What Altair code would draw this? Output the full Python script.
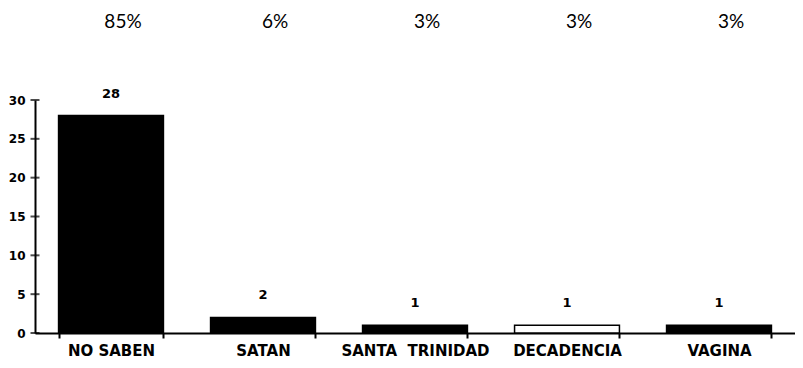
import altair as alt
import pandas as pd

categories = ["NO SABEN", "SATAN", "SANTA\u00a0\u00a0TRINIDAD", "DECADENCIA", "VAGINA"]
counts = [28, 2, 1, 1, 1]
percents = ["85%", "6%", "3%", "3%", "3%"]
fills = ["black", "black", "black", "white", "black"]
y_ticks = [0, 5, 10, 15, 20, 25, 30]

df = pd.DataFrame({"cat": categories, "n": counts, "pct": percents, "fill": fills})
ticks_df = pd.DataFrame({"n": y_ticks})

xscale = alt.Scale(domain=categories, paddingInner=0.31, paddingOuter=0.155)
yscale = alt.Scale(domain=[0, 30], nice=False)

base = alt.Chart(df)

yticks = alt.Chart(ticks_df).mark_tick(color="black", size=9, thickness=2).encode(
    y=alt.Y("n:Q", scale=yscale, title=None,
            axis=alt.Axis(values=y_ticks, tickCount=7)),
    x=alt.value(0)
)

bars = base.mark_bar(stroke="black", strokeWidth=1.5).encode(
    x=alt.X("cat:N", scale=xscale, sort=categories, title=None),
    y=alt.Y("n:Q", scale=yscale, title=None),
    fill=alt.Fill("fill:N", scale=None)
)

vals = base.mark_text(font="DejaVu Sans", fontWeight="bold", fontSize=13,
                      baseline="alphabetic", dy=-18, color="black").encode(
    x=alt.X("cat:N", scale=xscale, sort=categories, title=None),
    y=alt.Y("n:Q", scale=yscale, title=None),
    text="n:Q"
)

pcts = base.mark_text(font="Lato", fontSize=19, color="black", dx=12).encode(
    x=alt.X("cat:N", scale=xscale, sort=categories, title=None),
    y=alt.value(-78), text="pct:N"
)

chart = alt.layer(yticks, bars, vals, pcts).properties(
    width=760, height=233, autosize="none", background="white",
    padding={"left": 27, "top": 92, "right": 0, "bottom": 27}
).configure_view(stroke=None).configure_axis(
    grid=False, domainColor="black", domainWidth=2, labelColor="black",
    labelFont="DejaVu Sans", labelFontWeight="bold", labelOverlap=False
).configure_axisY(
    ticks=False, labelPadding=10, labelFontSize=12
).configure_axisX(
    labelAngle=0, labelFontSize=15, labelPadding=5, tickColor="black",
    tickWidth=2, tickSize=5, tickBand="extent"
)

chart.save("out.html", embed_options={"renderer": "svg", "actions": False})
